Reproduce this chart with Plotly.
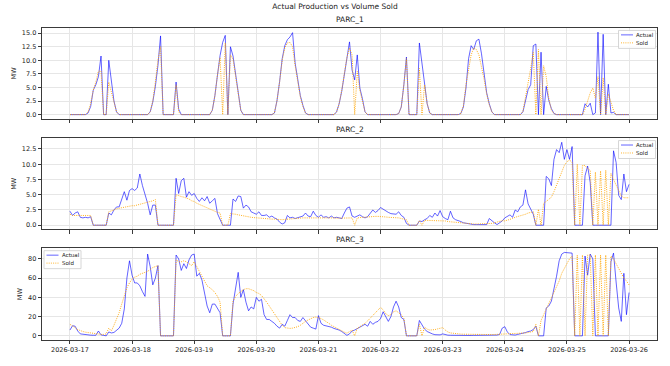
import plotly.graph_objects as go
import pandas as pd

# ---------------- data (hourly, 2026-03-17 00:00 .. 2026-03-26 00:00) ----------------
start = "2026-03-17"
n_points = 217
day_ticks = ["2026-03-17", "2026-03-18", "2026-03-19", "2026-03-20", "2026-03-21",
             "2026-03-22", "2026-03-23", "2026-03-24", "2026-03-25", "2026-03-26"]

p1_actual = (
    [0, 0, 0, 0, 0, 0, 0, 0.3, 1.5, 4.5, 5.5, 7, 10.8, 0, 0, 10, 6.5, 2.5, 0.5, 0, 0, 0, 0, 0] +
    [0, 0, 0, 0, 0, 0, 0, 0.5, 2.3, 5.2, 9.1, 14.5, 0, 0, 0, 0, 0, 6, 1.0, 0, 0, 0, 0, 0] +
    [0, 0, 0, 0, 0, 0, 0, 0.8, 3.5, 7.3, 10.9, 13.3, 14.6, 0, 12.5, 10.8, 7.3, 3.7, 0.8, 0, 0, 0, 0, 0] +
    [0, 0, 0, 0, 0, 0, 0, 0.3, 2.6, 6.1, 10.3, 12.7, 13.8, 14.3, 15.1, 9.5, 6.5, 3.5, 1.7, 0.3, 0, 0, 0, 0] +
    [0, 0, 0, 0, 0, 0, 0, 0.5, 2, 4.3, 7.3, 10.3, 13.4, 8.2, 6.4, 11, 4.9, 2.9, 0.5, 0, 0, 0, 0, 0] +
    [0, 0, 0, 0, 0, 0, 0, 0.2, 1.4, 5.5, 10.6, 0, 0, 0, 0, 13.2, 9.7, 6.4, 2, 0.3, 0, 0, 0, 0] +
    [0, 0, 0, 0, 0, 0, 0, 0.2, 1.4, 4.9, 10.3, 12.7, 12, 13.6, 13.9, 11.2, 7.3, 4, 2, 0.5, 0, 0, 0, 0] +
    [0, 0, 0, 0, 0, 0, 0, 0.5, 2.9, 4.6, 5.5, 12.7, 13, 0, 11.5, 0, 5.2, 2.6, 1.1, 0.2, 0, 0, 0, 0] +
    [0, 0, 0, 0, 0, 0, 0, 2, 1.4, 2.1, 0, 0.3, 15.2, 0, 14.8, 0, 5.6, 0.3, 0.4, 0, 0, 0, 0, 0] +
    [0]
)
p1_sold = (
    [0, 0, 0, 0, 0, 0, 0, 0.5, 2, 4.5, 6, 8, 8, 0, 0, 6, 4, 2, 0.5, 0, 0, 0, 0, 0] +
    [0, 0, 0, 0, 0, 0, 0, 0.5, 2.5, 6, 10, 12.5, 0, 0, 0, 0, 0, 5.5, 0.5, 0, 0, 0, 0, 0] +
    [0, 0, 0, 0, 0, 0, 0, 0.8, 3.5, 7.3, 10.5, 0, 13.2, 0, 11, 10.2, 7, 3.5, 0.8, 0, 0, 0, 0, 0] +
    [0, 0, 0, 0, 0, 0, 0, 0.3, 2.6, 6, 10, 12.3, 13.2, 13.3, 12.5, 9, 6, 3.3, 1.5, 0.3, 0, 0, 0, 0] +
    [0, 0, 0, 0, 0, 0, 0, 0.5, 2, 4.5, 7.5, 10.5, 12.3, 11, 0, 8, 4.5, 2.5, 0.5, 0, 0, 0, 0, 0] +
    [0, 0, 0, 0, 0, 0, 0, 0.2, 1.4, 5.5, 10.3, 0, 0, 0, 0, 8.5, 0, 5.5, 2, 0.3, 0, 0, 0, 0] +
    [0, 0, 0, 0, 0, 0, 0, 0.2, 1.6, 5.5, 8.5, 11, 12.3, 12, 11, 9, 6.5, 3.8, 1.8, 0.5, 0, 0, 0, 0] +
    [0, 0, 0, 0, 0, 0, 0, 0.6, 3.2, 5.5, 8.5, 11.5, 0, 12, 0, 9, 7, 3, 0.8, 0.2, 0, 0, 0, 0] +
    [0, 0, 0, 0, 0, 0, 0, 1, 2.5, 4, 4.9, 3, 7, 0, 6.8, 0, 3.8, 2.3, 0.8, 0, 0, 0, 0, 0] +
    [0]
)

p2_actual = (
    [2.3, 1.6, 2.0, 2.2, 1.3, 1.2, 1.3, 1.2, 1.4, 0, 0, 0, 0, 0, 0, 2.0, 1.7, 2.5, 3.0, 3.0, 4.1, 5.5, 4.1, 5.7] +
    [6.0, 5.7, 6.1, 8.4, 6.5, 5.2, 3.6, 1.7, 3.3, 3.3, 0, 0, 0, 0, 0, 0, 0, 7.7, 5.2, 7.3, 7.7, 4.6, 5.5, 4.9] +
    [5.2, 4.4, 3.9, 4.5, 4.0, 4.7, 3.6, 4.0, 4.4, 1.9, 0.9, 0, 0, 0, 0, 4.3, 3.9, 4.8, 4.7, 2.8, 3.3, 3.0, 2.2, 2.0] +
    [1.8, 2.2, 1.6, 1.6, 1.7, 1.3, 1.5, 1.2, 1.0, 0.5, 0.2, 0.4, 1.6, 1.2, 1.3, 1.1, 1.2, 1.3, 1.5, 2.0, 1.5, 1.4, 2.3, 1.6] +
    [1.3, 1.7, 1.3, 1.4, 1.2, 1.5, 1.2, 1.3, 1.2, 1.1, 2.0, 2.8, 3.0, 1.5, 1.3, 1.5, 1.7, 1.4, 1.2, 1.4, 2.0, 2.5, 2.1, 2.4] +
    [2.9, 2.6, 2.35, 2.1, 1.9, 1.8, 1.8, 2.2, 1.6, 1.3, 0.3, 0, 0, 0, 0, 0.7, 0.6, 0.9, 1.1, 1.6, 1.3, 2.0, 1.5, 2.4] +
    [1.4, 1.1, 0.9, 2.3, 1.2, 0.9, 0.8, 0.6, 0.4, 0.3, 0.2, 0.1, 0.1, 0.1, 0.1, 0.1, 0.1, 0.1, 1.1, 0.7, 0.4, 0.1, 0.4, 0.7] +
    [1.2, 1.5, 1.7, 1.3, 2.5, 2.2, 3.0, 3.3, 5.8, 3.5, 2.5, 1.8, 0, 0, 0, 0, 8.0, 7.6, 6.5, 10.8, 12.4, 11.9, 13.6, 10.8] +
    [12.4, 10.8, 12.9, 0, 0, 0, 0, 8.1, 9.7, 7.0, 0, 0, 0, 0, 0, 0, 0, 0, 12.2, 10.3, 4.9, 4.2, 8.4, 5.5] +
    [6.7]
)
p2_sold = (
    [1.8, 1.6, 1.6, 1.6, 1.6, 1.6, 1.6, 1.6, 1.6, 0, 0, 0, 0, 0, 0, 2.2, 2.3, 2.5, 2.7, 2.8, 2.9, 3.0, 3.0, 3.1] +
    [3.2, 3.2, 3.3, 3.4, 3.5, 3.6, 3.7, 3.8, 4.0, 4.2, 0, 0, 0, 0, 0, 0, 0, 5.0, 4.8, 4.7, 4.6, 4.5, 4.3, 4.0] +
    [3.9, 3.6, 3.4, 3.2, 3.0, 2.8, 2.6, 2.5, 2.3, 2.1, 2.0, 0, 0, 0, 1.9, 1.9, 1.8, 1.7, 1.6, 1.5, 1.4, 1.35, 1.3, 1.25] +
    [1.2, 1.2, 1.15, 1.1, 1.1, 1.05, 1.0, 1.0, 0.95, 0.9, 0.9, 0.95, 1.0, 1.05, 1.1, 1.1, 1.1, 1.15, 1.2, 1.2, 1.2, 1.25, 1.3, 1.3] +
    [1.3, 1.3, 1.25, 1.25, 1.2, 1.2, 1.2, 1.15, 1.15, 1.1, 1.1, 1.1, 1.15, 1.2, 0, 1.2, 1.25, 1.3, 1.3, 1.35, 1.4, 1.45, 1.45, 1.45] +
    [1.45, 1.4, 1.35, 1.3, 1.3, 1.25, 1.2, 1.2, 1.1, 1.0, 0.9, 0, 0, 0, 0, 0.75, 0, 0.8, 0.8, 0.8, 0.8, 0.8, 0.75, 0.75] +
    [0.75, 0.7, 0.6, 0.55, 0.5, 0.5, 0.45, 0.4, 0.4, 0.35, 0.3, 0.25, 0.2, 0.2, 0.2, 0.2, 0.2, 0.2, 0.25, 0.3, 0.4, 0.5, 0.6, 0.75] +
    [0.7, 0.8, 0.9, 1.1, 1.3, 1.4, 1.6, 1.7, 1.8, 2.0, 2.1, 2.2, 0, 2.6, 0, 3.6, 3.9, 4.2, 4.6, 5.5, 6.5, 7.6, 8.8, 9.8] +
    [10.4, 10.7, 10.3, 0, 10.0, 0, 9.8, 9.8, 9.3, 9.0, 0, 8.7, 0, 8.9, 0, 9.0, 0, 8.5, 7.5, 6.5, 5.6, 4.8, 4.5, 4.5] +
    [4.5]
)

p3_actual = (
    [6, 10.5, 10, 5, 2, 1.5, 1, 0.8, 0.7, 0.6, 0.6, 5, 1, 0.5, 0, 4, 3, 3.5, 5.5, 8, 13, 28, 60, 78] +
    [63, 55, 55, 52, 46, 41, 85, 72, 53, 60, 73, 0, 0, 0, 0, 0, 0, 84, 80, 68, 75, 70, 79, 84] +
    [85, 62, 65, 58, 43, 31, 24, 33, 33, 28, 24, 0, 0, 0, 0, 33, 51, 66, 40, 48, 35, 26, 30, 28] +
    [40, 36, 38, 22, 17, 17, 15, 13, 10, 8, 12, 10, 16, 22, 19, 19, 16, 15, 19, 16, 12, 9, 8, 7] +
    [21, 13, 11, 10.5, 10, 9, 7.7, 7, 6, 4.5, 2, 0.5, 2, 5, 6, 7.5, 9, 11, 12, 10, 15, 12, 14, 15] +
    [18, 25, 19.5, 15, 20, 30, 36, 30, 19, 17, 0, 0, 0, 0, 0, 16, 12, 7, 4.5, 3, 2, 1.2, 1, 1] +
    [2, 1, 0.7, 0.6, 0.5, 0.5, 0.4, 0.4, 0.5, 0.5, 0.4, 0.4, 0.5, 0.5, 0.4, 0.4, 0.4, 0.5, 0.5, 0.5, 0.6, 0.8, 1.5, 8] +
    [9.5, 4, 1.3, 1, 0.8, 1.5, 2, 2.7, 3.4, 4.4, 5, 6.5, 10, 0, 0, 0, 29, 31, 36, 48, 62, 78, 85, 86.7] +
    [86.7, 86.5, 86, 0, 0, 0, 0, 83, 63, 85, 80, 0, 0, 0, 0, 0, 0, 77, 86, 56, 29, 15, 65, 22] +
    [45]
)
p3_sold = (
    [12, 10.5, 8.5, 6.5, 5.2, 4.5, 3.8, 3.3, 3.0, 2.7, 2.4, 2.0, 1.5, 1.5, 2, 8, 5, 11, 17, 24, 33, 42, 50, 55] +
    [59, 61, 62, 64, 65, 66, 67, 69, 71, 72, 73, 0, 0, 0, 0, 0, 0, 79, 77, 77, 78, 77, 75, 73] +
    [77, 72, 66, 61, 56, 52, 50, 48, 45, 41, 35, 0, 0, 0, 0, 36, 41, 44, 46, 48, 49, 49, 48, 47] +
    [45, 44, 42, 39, 35, 31, 27, 23, 19, 15, 11, 8.5, 7.7, 7.7, 8, 8.7, 9.5, 11, 13.2, 15, 16.5, 18, 19, 19.5] +
    [19, 18, 16.5, 15, 13, 11, 9.4, 8, 6.5, 5, 3.8, 2.8, 4, 6, 0, 8, 9.5, 11, 13, 15.5, 18.5, 21, 24, 27] +
    [29.6, 27, 23, 21, 22, 25, 26, 24, 22, 18, 0, 0, 0, 0, 0, 12, 0, 9, 7, 6, 6, 6.5, 7.2, 8] +
    [8.5, 6, 4, 3, 2.5, 2.2, 2, 1.8, 1.7, 1.6, 1.5, 1.4, 1.3, 1.3, 1.3, 1.3, 1.3, 1.3, 1.3, 1.3, 1.4, 1.5, 1.7, 2] +
    [2.0, 1.8, 1.7, 1.8, 1.9, 2, 2.3, 2.6, 3, 3.4, 3.9, 4.5, 12, 0, 16, 22, 27, 33, 39, 45, 51, 57, 65, 70] +
    [74, 80, 83, 0, 84, 0, 84, 0, 84, 84, 0, 84, 0, 84, 0, 84, 0, 83, 80, 75, 70, 65, 60, 57] +
    [53]
)

parc_names = ["PARC_1", "PARC_2", "PARC_3"]
series_names = ["Actual", "Sold"]
legend_corner = ["right", "right", "left"]

# ---------------- figure ----------------
times = pd.date_range(start, periods=n_points, freq="h")
t0, t1 = times[0], times[-1]
pad = (t1 - t0) * 0.05
x_range = [t0 - pad, t1 + pad]

FONT = "DejaVu Sans"
TXT = "#222222"
GRID = "#e6e6e6"
AX = "#3a3a3a"
BLUE = "rgba(0,0,255,0.68)"
ORANGE = "rgba(255,165,0,0.9)"
DOT = "1px,1.2px"

W, H = 670, 366
ML, MR, MT, MB = 42, 13, 28, 16.5
PW = W - ML - MR            # plot width in px
PH = H - MT - MB            # total plotting height in px

# vertical domains (paper fractions) for the three panels
domains = [[0.7092, 1.0], [0.3546, 0.647], [0.0, 0.294]]
series = [(p1_actual, p1_sold), (p2_actual, p2_sold), (p3_actual, p3_sold)]

fig = go.Figure()
for i, (act, sold) in enumerate(series, start=1):
    xa = "x" if i == 1 else f"x{i}"
    ya = "y" if i == 1 else f"y{i}"
    fig.add_trace(go.Scatter(x=times, y=act, mode="lines", name=series_names[0],
                             line=dict(color=BLUE, width=0.9),
                             xaxis=xa, yaxis=ya, showlegend=False))
    fig.add_trace(go.Scatter(x=times, y=sold, mode="lines", name=series_names[1],
                             line=dict(color=ORANGE, width=1.0, dash=DOT),
                             xaxis=xa, yaxis=ya, showlegend=False))

def y_range(a, b):
    lo = min(min(a), min(b))
    hi = max(max(a), max(b))
    m = (hi - lo) * 0.05
    return [lo - m, hi + m]

layout = dict(
    width=W, height=H,
    margin=dict(l=ML, r=MR, t=MT, b=MB),
    paper_bgcolor="white", plot_bgcolor="white",
    font=dict(family=FONT, size=6.5, color=TXT),
    title=dict(text="Actual Production vs Volume Sold", x=0.5, xref="container",
               y=1 - 6.5 / H, yref="container", yanchor="middle",
               font=dict(family=FONT, size=7.5, color=TXT)),
    showlegend=False,
)

for i in range(1, 4):
    xk = "xaxis" if i == 1 else f"xaxis{i}"
    yk = "yaxis" if i == 1 else f"yaxis{i}"
    ya = "y" if i == 1 else f"y{i}"
    xa = "x" if i == 1 else f"x{i}"
    layout[xk] = dict(
        type="date", range=x_range, anchor=ya, domain=[0, 1],
        tickmode="array", tickvals=day_ticks, ticktext=day_ticks,
        showticklabels=(i == 3),
        ticks="outside", ticklen=3.5, tickwidth=0.8, tickcolor=AX,
        showgrid=True, gridcolor=GRID, gridwidth=0.8,
        showline=True, linecolor=AX, linewidth=0.8, mirror=True,
        zeroline=False, tickfont=dict(size=6.5, color=TXT),
    )
    if i > 1:
        layout[xk]["matches"] = "x"
    a, s = series[i - 1]
    yax = dict(
        domain=domains[i - 1], anchor=xa, range=y_range(a, s),
        ticks="outside", ticklen=3.5, tickwidth=0.8, tickcolor=AX,
        showgrid=True, gridcolor=GRID, gridwidth=0.8,
        showline=True, linecolor=AX, linewidth=0.8, mirror=True,
        zeroline=False, tickfont=dict(size=6.5, color=TXT),
        title=dict(text="MW", font=dict(size=6.5, color=TXT), standoff=4),
    )
    if i < 3:
        yax.update(dtick=2.5, tick0=0, tickformat=".1f")
    else:
        yax.update(dtick=20, tick0=0)
    layout[yk] = yax

# ---- compact matplotlib-style legends (box + line samples + labels) ----
shapes = []
annotations = []
BOX_W, BOX_H = 37, 18.5
for i in range(3):
    xd = "x domain" if i == 0 else f"x{i+1} domain"
    yd = "y domain" if i == 0 else f"y{i+1} domain"
    ph = (domains[i][1] - domains[i][0]) * PH
    if legend_corner[i] == "right":
        bx0 = PW - 1.5 - BOX_W
    else:
        bx0 = 2.0
    by0 = 2.5  # from top of panel
    fx = lambda px: px / PW
    fy = lambda py: 1 - py / ph
    shapes.append(dict(type="rect", xref=xd, yref=yd, x0=fx(bx0), x1=fx(bx0 + BOX_W),
                       y0=fy(by0 + BOX_H), y1=fy(by0),
                       fillcolor="rgba(255,255,255,0.85)",
                       line=dict(color="#cccccc", width=0.8), layer="above"))
    rows = [(series_names[0], BLUE, "solid", 4.6), (series_names[1], ORANGE, DOT, 12.8)]
    for name, col, dash, ry in rows:
        shapes.append(dict(type="line", xref=xd, yref=yd,
                           x0=fx(bx0 + 2.5), x1=fx(bx0 + 14.5),
                           y0=fy(by0 + ry), y1=fy(by0 + ry),
                           line=dict(color=col, width=0.9, dash=dash), layer="above"))
        annotations.append(dict(text=name, xref=xd, yref=yd, x=fx(bx0 + 16.5), y=fy(by0 + ry),
                                xanchor="left", yanchor="middle", showarrow=False,
                                borderpad=0, font=dict(family=FONT, size=5.5, color=TXT)))

for i, name in enumerate(parc_names):
    annotations.append(dict(text=name, xref="paper", yref="paper", x=0.5, y=domains[i][1],
                            xanchor="center", yanchor="bottom", yshift=2, showarrow=False,
                            font=dict(family=FONT, size=7.5, color=TXT)))
layout["annotations"] = annotations
layout["shapes"] = shapes

fig.update_layout(**layout)
fig.write_html("out.html")
